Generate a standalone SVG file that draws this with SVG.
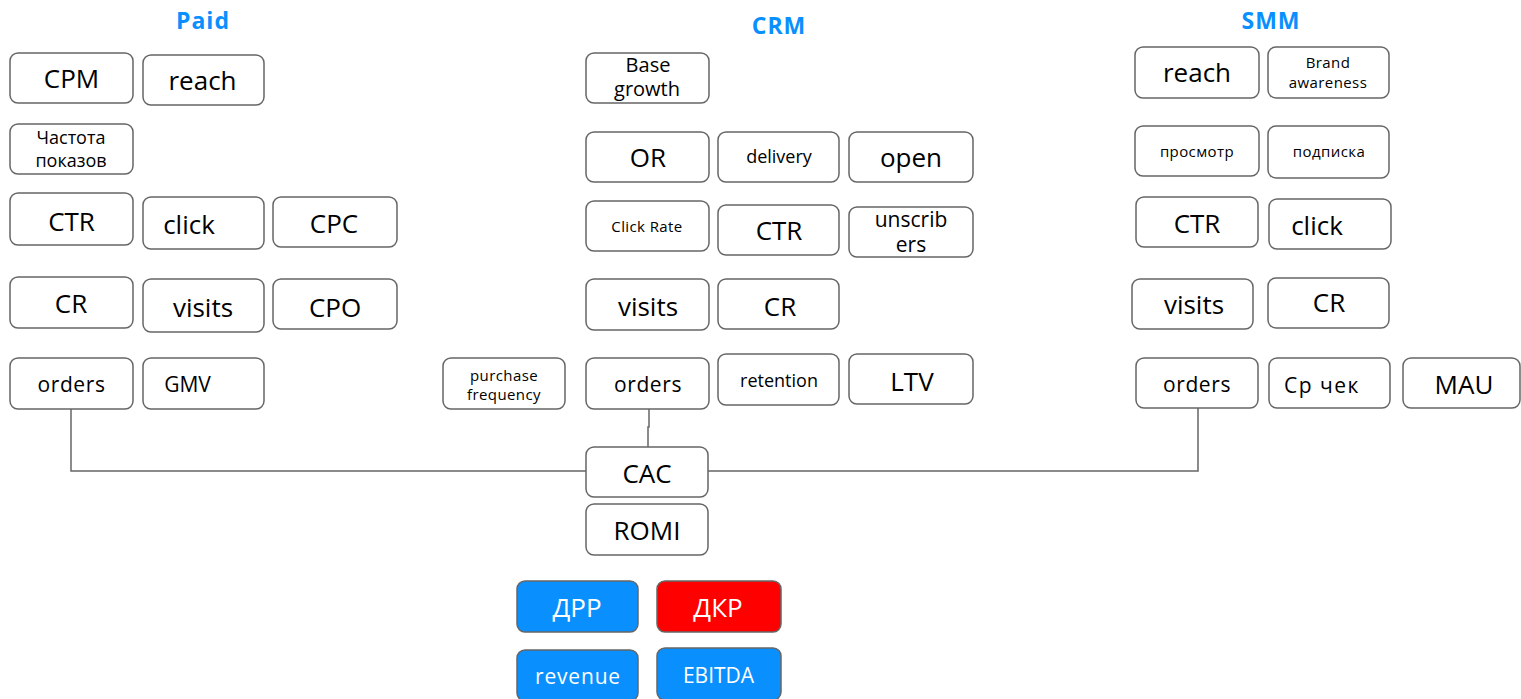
<svg xmlns="http://www.w3.org/2000/svg" width="1521" height="699" viewBox="0 0 1521 699">
<style>
.n rect{fill:#fff;stroke:#666;stroke-width:1.5}
.n.b rect{fill:#0a90fe}
.n.r rect{fill:#fe0000}
text{font-family:"Open Sans","Liberation Sans",sans-serif;fill:#000;text-anchor:middle}
.n.b text,.n.r text{fill:#fff}
.L{font-size:26px}
.M{font-size:21px}
.m{font-size:18px}
.s{font-size:15px;letter-spacing:0.4px}
.t{font-size:23px;font-weight:bold;fill:#0a90fe;letter-spacing:1px}
.c{fill:none;stroke:#666;stroke-width:1.5}
</style>
<g id="titles">
<text class="t" x="203" y="29">Paid</text>
<text class="t" x="779" y="34">CRM</text>
<text class="t" x="1271" y="29">SMM</text>
</g>
<g id="connectors">
<path class="c" d="M71,409 V471 H586"/>
<path class="c" d="M1198,408 V471 H708"/>
<path class="c" d="M649,409 V427 H648 V447"/>
</g>
<!-- Paid -->
<g id="paid-cpm" class="n"><rect x="10" y="53" width="123" height="50" rx="8"/><text class="L" x="71.5" y="88">CPM</text></g>
<g id="paid-reach" class="n"><rect x="143" y="55" width="121" height="50" rx="8"/><text class="L" x="202.5" y="90">reach</text></g>
<g id="paid-freq" class="n"><rect x="10" y="124" width="123" height="50" rx="8"/><text class="m" x="71" y="144">Частота</text><text class="m" x="71" y="166.5">показов</text></g>
<g id="paid-ctr" class="n"><rect x="10" y="193" width="123" height="52" rx="8"/><text class="L" x="71.5" y="230.5">CTR</text></g>
<g id="paid-click" class="n"><rect x="143" y="197" width="121" height="52" rx="8"/><text class="L" x="189" y="234">click</text></g>
<g id="paid-cpc" class="n"><rect x="273" y="197" width="124" height="50" rx="8"/><text class="L" x="334" y="233">CPC</text></g>
<g id="paid-cr" class="n"><rect x="10" y="277" width="123" height="51" rx="8"/><text class="L" x="71" y="312.5">CR</text></g>
<g id="paid-visits" class="n"><rect x="143" y="279" width="121" height="53" rx="8"/><text class="L" x="203" y="317">visits</text></g>
<g id="paid-cpo" class="n"><rect x="273" y="279" width="124" height="50" rx="8"/><text class="L" x="335" y="316.5">CPO</text></g>
<g id="paid-orders" class="n"><rect x="10" y="358" width="123" height="51" rx="8"/><text class="M" x="71.5" y="392" letter-spacing="0.6">orders</text></g>
<g id="paid-gmv" class="n"><rect x="143" y="358" width="121" height="51" rx="8"/><text class="M" x="187.5" y="391.5">GMV</text></g>
<!-- CRM -->
<g id="crm-base" class="n"><rect x="586" y="53" width="123" height="50" rx="8"/><text x="648" y="72" font-size="20">Base</text><text x="647" y="96" font-size="20">growth</text></g>
<g id="crm-or" class="n"><rect x="586" y="132" width="123" height="50" rx="8"/><text class="L" x="648" y="166.5">OR</text></g>
<g id="crm-delivery" class="n"><rect x="718" y="132" width="121" height="50" rx="8"/><text class="m" x="779" y="162.5">delivery</text></g>
<g id="crm-open" class="n"><rect x="849" y="132" width="124" height="50" rx="8"/><text class="L" x="911" y="167">open</text></g>
<g id="crm-clickrate" class="n"><rect x="586" y="201" width="123" height="50" rx="8"/><text class="s" x="647" y="232">Click Rate</text></g>
<g id="crm-ctr" class="n"><rect x="718" y="205" width="121" height="50" rx="8"/><text class="L" x="779" y="240">CTR</text></g>
<g id="crm-unsub" class="n"><rect x="849" y="207" width="124" height="50" rx="8"/><text class="M" x="911" y="227">unscrib</text><text class="M" x="911" y="252">ers</text></g>
<g id="crm-visits" class="n"><rect x="586" y="279" width="123" height="51" rx="8"/><text class="L" x="648" y="316">visits</text></g>
<g id="crm-cr" class="n"><rect x="718" y="279" width="121" height="50" rx="8"/><text class="L" x="780" y="316">CR</text></g>
<g id="crm-purchase" class="n"><rect x="443" y="358" width="122" height="51" rx="8"/><text class="s" x="504" y="380.5">purchase</text><text class="s" x="504" y="400">frequency</text></g>
<g id="crm-orders" class="n"><rect x="586" y="358" width="123" height="51" rx="8"/><text class="M" x="648" y="391.5" letter-spacing="0.6">orders</text></g>
<g id="crm-retention" class="n"><rect x="718" y="354" width="121" height="51" rx="8"/><text class="m" x="779" y="386.5">retention</text></g>
<g id="crm-ltv" class="n"><rect x="849" y="354" width="124" height="50" rx="8"/><text class="L" x="912" y="391">LTV</text></g>
<!-- SMM -->
<g id="smm-reach" class="n"><rect x="1135" y="47" width="124" height="51" rx="8"/><text class="L" x="1197" y="82">reach</text></g>
<g id="smm-brand" class="n"><rect x="1268" y="47" width="121" height="51" rx="8"/><text class="s" x="1328" y="68">Brand</text><text class="s" x="1328" y="88">awareness</text></g>
<g id="smm-view" class="n"><rect x="1135" y="126" width="124" height="50" rx="8"/><text class="s" x="1197" y="157">просмотр</text></g>
<g id="smm-sub" class="n"><rect x="1268" y="126" width="121" height="52" rx="8"/><text class="s" x="1329" y="157">подписка</text></g>
<g id="smm-ctr" class="n"><rect x="1136" y="197" width="122" height="50" rx="8"/><text class="L" x="1197" y="232.5">CTR</text></g>
<g id="smm-click" class="n"><rect x="1269" y="199" width="122" height="50" rx="8"/><text class="L" x="1317" y="235">click</text></g>
<g id="smm-visits" class="n"><rect x="1132" y="279" width="121" height="50" rx="8"/><text class="L" x="1194" y="314">visits</text></g>
<g id="smm-cr" class="n"><rect x="1268" y="278" width="121" height="50" rx="8"/><text class="L" x="1329" y="311.5">CR</text></g>
<g id="smm-orders" class="n"><rect x="1136" y="358" width="122" height="50" rx="8"/><text class="M" x="1197" y="391.5" letter-spacing="0.6">orders</text></g>
<g id="smm-check" class="n"><rect x="1269" y="358" width="121" height="50" rx="8"/><text class="M" x="1322" y="392.5" letter-spacing="1.5">Ср чек</text></g>
<g id="smm-mau" class="n"><rect x="1403" y="358" width="117" height="50" rx="8"/><text class="L" x="1464" y="394">MAU</text></g>
<!-- bottom -->
<g id="cac" class="n"><rect x="586" y="447" width="122" height="50" rx="8"/><text class="L" x="647" y="482.5">CAC</text></g>
<g id="romi" class="n"><rect x="586" y="504" width="122" height="51" rx="8"/><text class="L" x="647" y="540">ROMI</text></g>
<g id="drr" class="n b"><rect x="517" y="581" width="121" height="51" rx="8"/><text class="L" x="577" y="616.5">ДРР</text></g>
<g id="dkr" class="n r"><rect x="657" y="581" width="124" height="51" rx="8"/><text class="L" x="718" y="616.5">ДКР</text></g>
<g id="revenue" class="n b"><rect x="517" y="650" width="121" height="51" rx="8"/><text class="M" x="578" y="684" letter-spacing="0.8">revenue</text></g>
<g id="ebitda" class="n b"><rect x="657" y="648" width="124" height="52" rx="8"/><text class="M" x="718.5" y="682.5">EBITDA</text></g>
</svg>
